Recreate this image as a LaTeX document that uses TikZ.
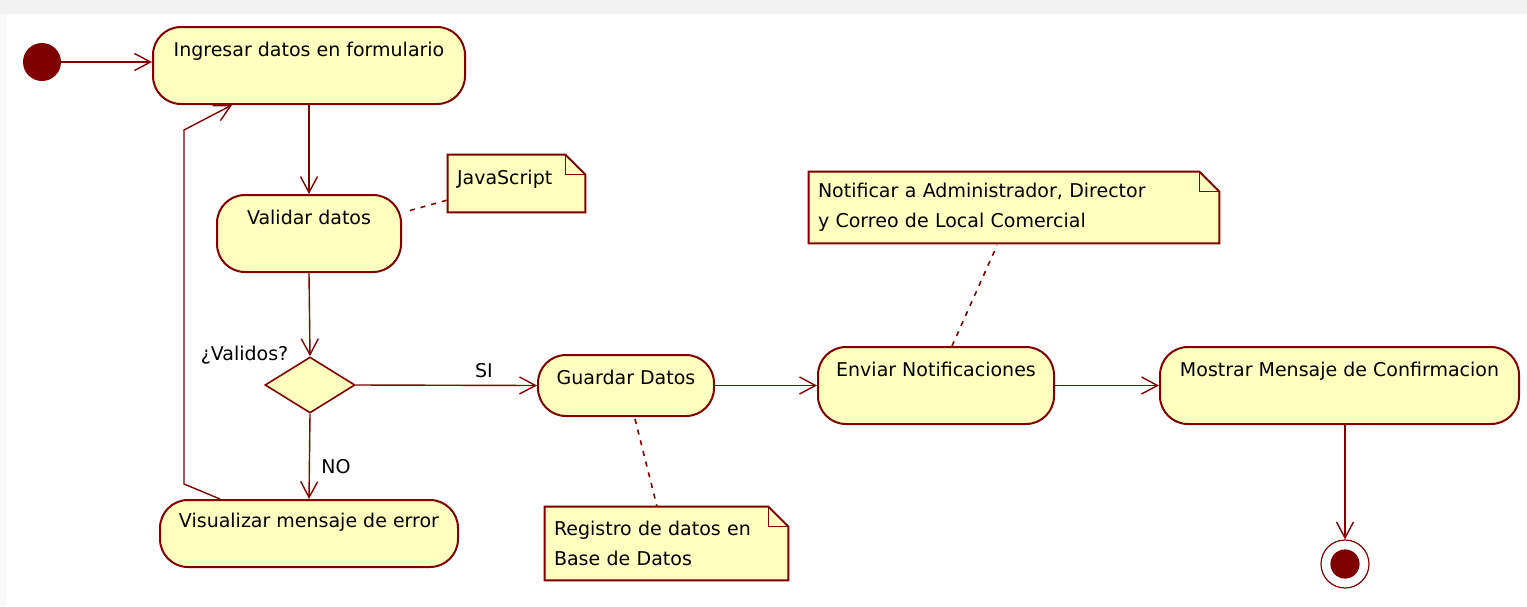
\documentclass[tikz,border=0pt]{standalone}
\usepackage{fontspec}
\setmainfont{DejaVu Sans}
\usetikzlibrary{shapes.geometric,arrows.meta,calc,backgrounds}
\definecolor{uml}{RGB}{128,0,0}
\definecolor{umlfill}{RGB}{255,255,192}
\newcommand\notefold[1]{%
  \draw[draw=uml, fill=umlfill, line width=1pt] (#1.north west) -- ([xshift=-10pt]#1.north east) -- ([yshift=-10pt]#1.north east) -- (#1.south east) -- (#1.south west) -- cycle;
  \draw[draw=uml, line width=0.6pt] ([xshift=-10pt]#1.north east) |- ([yshift=-10pt]#1.north east);}
\begin{document}
\begin{tikzpicture}[x=0.5pt,y=-0.5pt,
  font=\fontsize{9.5pt}{15pt}\selectfont,
  act/.style={draw=uml, fill=umlfill, line width=1pt, rounded corners=14pt, inner sep=0pt, text height=7pt, text depth=#1},
  notebox/.style={draw=none, fill=none, inner xsep=4.5pt, inner ysep=0pt, align=left},
  flow/.style={draw=uml, line width=0.7pt, -{Straight Barb[length=8pt,width=8.5pt]}},
  notelink/.style={draw=uml, line width=0.8pt, dash pattern=on 2.5pt off 3pt},
  lbl/.style={inner sep=0pt, anchor=base}]
\useasboundingbox (0,0) rectangle (1527,606);

% initial / final
\node[circle, fill=uml, inner sep=0pt, minimum size=19pt] (start) at (42,62) {};
\node[circle, draw=uml, line width=0.6pt, fill=white, inner sep=0pt, minimum size=24pt] (end) at (1345,564) {};
\fill[uml] (end) circle (7.3pt);

% actions
\node[act=16.5pt, minimum width=156pt, minimum height=38.5pt] (a1) at (309,65.5) {Ingresar datos en formulario};
\node[act=16.5pt, minimum width=92pt, minimum height=38.5pt] (a2) at (309,233.5) {Validar datos};
\node[diamond, draw=uml, fill=umlfill, line width=0.8pt, inner sep=0pt, minimum width=45pt, minimum height=28pt] (dec) at (310,385) {};
\node[act=13.5pt, minimum width=149pt, minimum height=33.5pt] (a3) at (309,533.5) {Visualizar mensaje de error};
\node[act=8.5pt, minimum width=88pt, minimum height=30.5pt] (a4) at (626,385.5) {Guardar Datos};
\node[act=16.5pt, minimum width=118pt, minimum height=38.5pt] (a5) at (936,385.5) {Enviar Notificaciones};
\node[act=16.5pt, minimum width=179.5pt, minimum height=38.5pt] (a6) at (1339.5,385.5) {Mostrar Mensaje de Confirmacion};

% notes
\node[notebox, text width=59.5pt, minimum height=28.5pt, text height=7pt, text depth=6.5pt] (n1) at (516.5,183.5) {JavaScript};
\node[notebox, text width=112.5pt, minimum height=36.5pt] (n2) at (666.5,543.5) {Registro de datos en\\Base de Datos};
\node[notebox, text width=196pt, minimum height=35.5pt] (n3) at (1014,207.5) {Notificar a Administrador, Director\\y Correo de Local Comercial};

% labels
\node[lbl] (lv) at (244.5,360) {¿Validos?};
\node[lbl] (lsi) at (484,377) {SI};
\node[lbl] (lno) at (336,473) {NO};

% connectors
\draw[flow] (start) -- (start -| a1.west);
\draw[flow] (a1.south) -- (a2.north);
\draw[flow] (a2.south) -- (dec.north);
\draw[flow] (dec.east) -- (a4.west);
\draw[flow] (dec.south) -- (a3.north);
\coordinate (lb1) at (184,484);
\coordinate (lb2) at (184,130);
\draw[flow] ($(a3.north)+(-89,0)$) -- (lb1) -- (lb2) -- ($(a1.south)+(-77,0)$);
\draw[flow] (a4.east) -- (a5.west);
\draw[flow] (a5.east) -- (a6.west);
\draw[flow] (a6.south -| end) -- (end.north);

% note links
\draw[notelink] ([shift={(8,-23)}]a2.east) -- ([shift={(0,16.5)}]n1.west);
\draw[notelink] ([shift={(9,2)}]a4.south) -- ([shift={(-9.5,0)}]n2.north);
\draw[notelink] ([shift={(16,0)}]a5.north) -- ([shift={(-17,2)}]n3.south);

\begin{scope}[on background layer]
  \fill[black!5] (0,0) rectangle (1527,14);
  \fill[black!2] (0,14) rectangle (7,606);
  \notefold{n1}
  \notefold{n2}
  \notefold{n3}
\end{scope}
\end{tikzpicture}
\end{document}
